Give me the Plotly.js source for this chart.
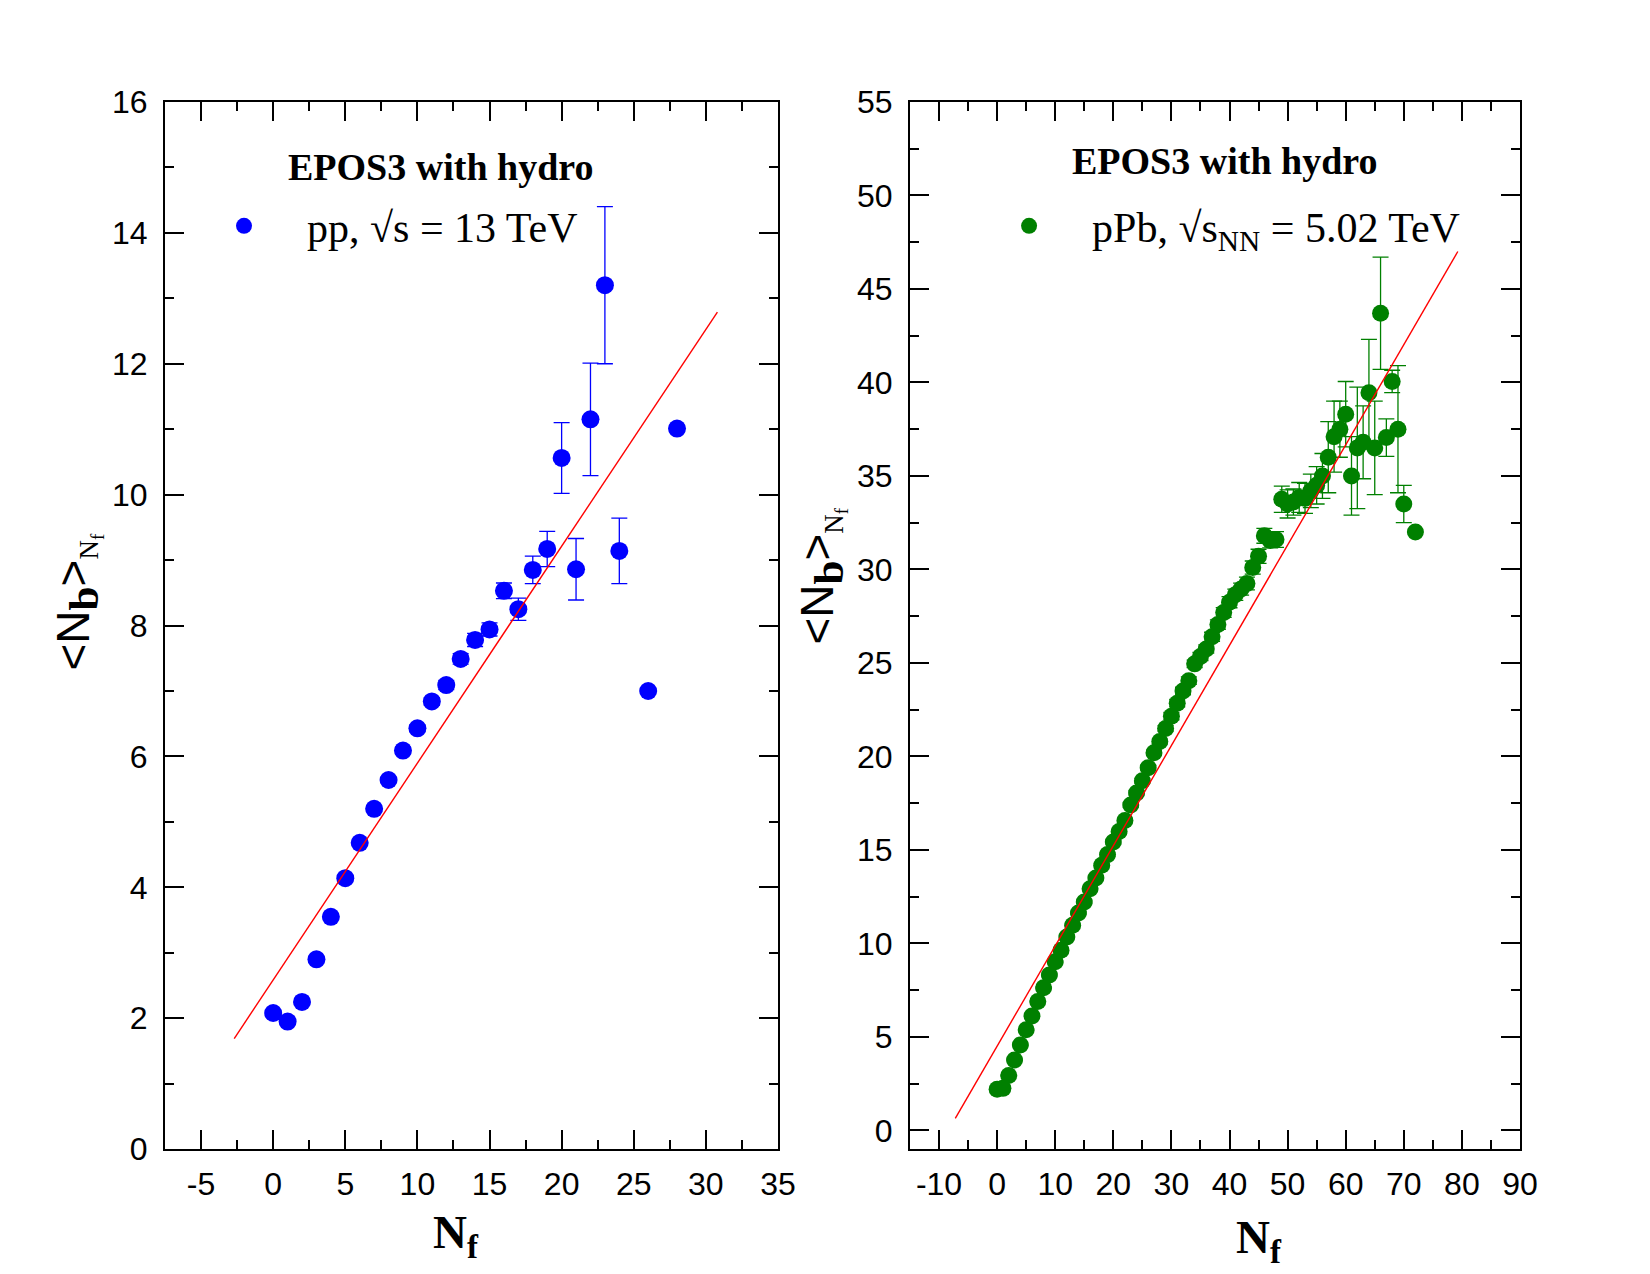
<!DOCTYPE html>
<html>
<head>
<meta charset="utf-8">
<script src="https://cdn.plot.ly/plotly-3.0.1.min.js"></script>
<style>
  body { margin: 0; background: #fff; }
  #graph { width: 1650px; height: 1274px; }
</style>
</head>
<body>
<div id="graph"></div>
<script>
// pp, sqrt(s) = 13 TeV
const ppNf = [0, 1, 2, 3, 4, 5, 6, 7, 8, 9, 10, 11, 12, 13, 14, 15, 16, 17, 18, 19, 20, 21, 22, 23, 24, 26, 28];
const ppNb = [2.08, 1.95, 2.25, 2.90, 3.55, 4.14, 4.68, 5.20, 5.64, 6.09, 6.43, 6.84, 7.09, 7.49, 7.78, 7.94,
    8.53, 8.25, 8.85, 9.17, 10.56, 8.86, 11.15, 13.20, 9.14, 7.00, 11.01];
const ppErr = [0.02, 0.02, 0.02, 0.03, 0.03, 0.03, 0.03, 0.04, 0.04, 0.05, 0.05, 0.06, 0.07, 0.08, 0.10, 0.10,
    0.12, 0.17, 0.21, 0.27, 0.54, 0.47, 0.86, 1.20, 0.50, 0, 0];
const ppFitX = [-2.7, 30.8];
const ppFitY = [1.69, 12.79];

// pPb, sqrt(sNN) = 5.02 TeV
const pbNf = [0, 1, 2, 3, 4, 5, 6, 7, 8, 9, 10, 11, 12, 13, 14, 15, 16, 17, 18, 19, 20, 21, 22, 23, 24, 25,
    26, 27, 28, 29, 30, 31, 32, 33, 34, 35, 36, 37, 38, 39, 40, 41, 42, 43, 44, 45, 46, 47, 48, 49, 50, 51,
    52, 53, 54, 55, 56, 57, 58, 59, 60, 61, 62, 63, 64, 65, 66, 67, 68, 69, 70, 72];
const pbNb = [2.2, 2.25, 2.94, 3.77, 4.57, 5.39, 6.12, 6.89, 7.63, 8.31, 9.02, 9.64, 10.35, 10.97, 11.63, 12.22,
    12.93, 13.5, 14.18, 14.75, 15.42, 15.99, 16.58, 17.4, 18.05, 18.7, 19.4, 20.2, 20.8, 21.5, 22.15, 22.85,
    23.5, 24.05, 24.95, 25.35, 25.75, 26.4, 27.05, 27.7, 28.25, 28.65, 28.95, 29.25, 30.1, 30.7, 31.8, 31.55,
    31.6, 33.75, 33.5, 33.6, 33.85, 33.8, 34.2, 34.5, 35.0, 36.0, 37.1, 37.5, 38.3, 35.0, 36.5, 36.8, 39.45,
    36.5, 43.7, 37.05, 40.05, 37.5, 33.5, 32.0];
const pbErr = [0.05, 0.05, 0.05, 0.05, 0.05, 0.05, 0.05, 0.05, 0.06, 0.06, 0.06, 0.06, 0.07, 0.07, 0.07, 0.08,
    0.08, 0.08, 0.09, 0.09, 0.1, 0.1, 0.1, 0.11, 0.11, 0.12, 0.12, 0.13, 0.13, 0.14, 0.2, 0.2, 0.2, 0.2, 0.2,
    0.22, 0.22, 0.24, 0.25, 0.26, 0.3, 0.3, 0.32, 0.34, 0.35, 0.38, 0.4, 0.4, 0.42, 0.7, 0.75, 0.7, 0.8, 0.8,
    0.9, 1.0, 1.2, 1.9, 1.9, 1.5, 1.75, 2.1, 3.25, 1.95, 2.85, 2.5, 3.0, 1.0, 0.6, 3.4, 1.0, 0];
const pbFitX = [-7.2, 79.3];
const pbFitY = [0.65, 47.0];

// tick labels (plain hyphen minus, as in the original)
const ppTickVals = [-5, 0, 5, 10, 15, 20, 25, 30, 35];
const ppTickText = ["-5", "0", "5", "10", "15", "20", "25", "30", "35"];
const pbTickVals = [-10, 0, 10, 20, 30, 40, 50, 60, 70, 80, 90];
const pbTickText = ["-10", "0", "10", "20", "30", "40", "50", "60", "70", "80", "90"];

const sans = "Liberation Sans, Arial, sans-serif";
const serif = "Liberation Serif, Times New Roman, serif";
const tickFont = { family: sans, size: 32, color: "#000" };

function axis(range, dtick, minorDtick, domain, anchor, standoff) {
    return {
        domain: domain, anchor: anchor, range: range, dtick: dtick, tick0: 0,
        showgrid: false, zeroline: false,
        showline: true, linecolor: "#000", linewidth: 2, mirror: "ticks",
        ticks: "inside", ticklen: 19, tickwidth: 2, tickcolor: "#000",
        minor: { tickmode: "linear", ticks: "inside", ticklen: 9, tickwidth: 2, tickcolor: "#000",
                 dtick: minorDtick, tick0: 0, showgrid: false },
        tickfont: tickFont, ticklabelstandoff: standoff, fixedrange: true
    };
}

const data = [
    {
        x: ppNf, y: ppNb, xaxis: "x", yaxis: "y", mode: "markers", name: "pp, √s = 13 TeV",
        marker: { color: "#0000ff", size: 18 },
        error_y: { type: "data", array: ppErr, visible: true, color: "#0000ff", thickness: 1.3, width: 8 },
        legend: "legend"
    },
    {
        x: ppFitX, y: ppFitY, xaxis: "x", yaxis: "y", mode: "lines", showlegend: false,
        line: { color: "#ff0000", width: 1.4 }
    },
    {
        x: pbNf, y: pbNb, xaxis: "x2", yaxis: "y2", mode: "markers", name: "pPb, √s<sub>NN</sub> = 5.02 TeV",
        marker: { color: "#008000", size: 17 },
        error_y: { type: "data", array: pbErr, visible: true, color: "#008000", thickness: 1.3, width: 8 },
        legend: "legend2"
    },
    {
        x: pbFitX, y: pbFitY, xaxis: "x2", yaxis: "y2", mode: "lines", showlegend: false,
        line: { color: "#ff0000", width: 1.4 }
    }
];

function legendBox(x) {
    return {
        x: x, y: 0.8226, xanchor: "left", yanchor: "middle", bgcolor: "rgba(0,0,0,0)",
        font: { family: serif, size: 42, color: "#000" }, itemwidth: 116
    };
}

const yTitle = "&lt;N<sub><span style='font-family:Liberation Serif;font-weight:bold;font-size:43px'>b</span></sub>&gt;" +
    "<sub><span style='font-family:Liberation Serif;font-size:27px'>N<sub>f</sub></span></sub>";

function note(text, x, y, font, angle) {
    return { text: text, xref: "paper", yref: "paper", x: x, y: y, xanchor: "center", yanchor: "middle",
             showarrow: false, textangle: angle || 0, font: font };
}

const titleFont = { family: serif, size: 38, color: "#000" };
const nfFont = { family: serif, size: 47, color: "#000" };
const nbFont = { family: sans, size: 46, color: "#000" };

const xLeft = axis([-7.5, 35], 5, 2.5, [0.1, 0.4715], "y", 5);
xLeft.tickmode = "array"; xLeft.tickvals = ppTickVals; xLeft.ticktext = ppTickText;
const xRight = axis([-15, 90], 10, 5, [0.5515, 0.9212], "y2", 5);
xRight.tickmode = "array"; xRight.tickvals = pbTickVals; xRight.ticktext = pbTickText;

const layout = {
    width: 1650, height: 1274,
    margin: { l: 0, r: 0, t: 0, b: 0 },
    paper_bgcolor: "#fff", plot_bgcolor: "#fff",
    xaxis: xLeft,
    yaxis: axis([0, 16], 2, 1, [0.098, 0.92], "x", 9),
    xaxis2: xRight,
    yaxis2: axis([-1, 55], 5, 2.5, [0.098, 0.92], "x2", 9),
    legend: legendBox(0.1097),
    legend2: legendBox(0.5855),
    annotations: [
        note("<b>EPOS3 with hydro</b>", 0.2667, 0.8689, titleFont),
        note("<b>EPOS3 with hydro</b>", 0.7424, 0.8736, titleFont),
        note("<b>N<sub>f</sub></b>", 0.2764, 0.0306, nfFont),
        note("<b>N<sub>f</sub></b>", 0.763, 0.026, nfFont),
        note(yTitle, 0.047, 0.5275, nbFont, -90),
        note(yTitle, 0.498, 0.548, nbFont, -90)
    ]
};

Plotly.newPlot("graph", data, layout, { displayModeBar: false, staticPlot: true });
</script>
</body>
</html>
